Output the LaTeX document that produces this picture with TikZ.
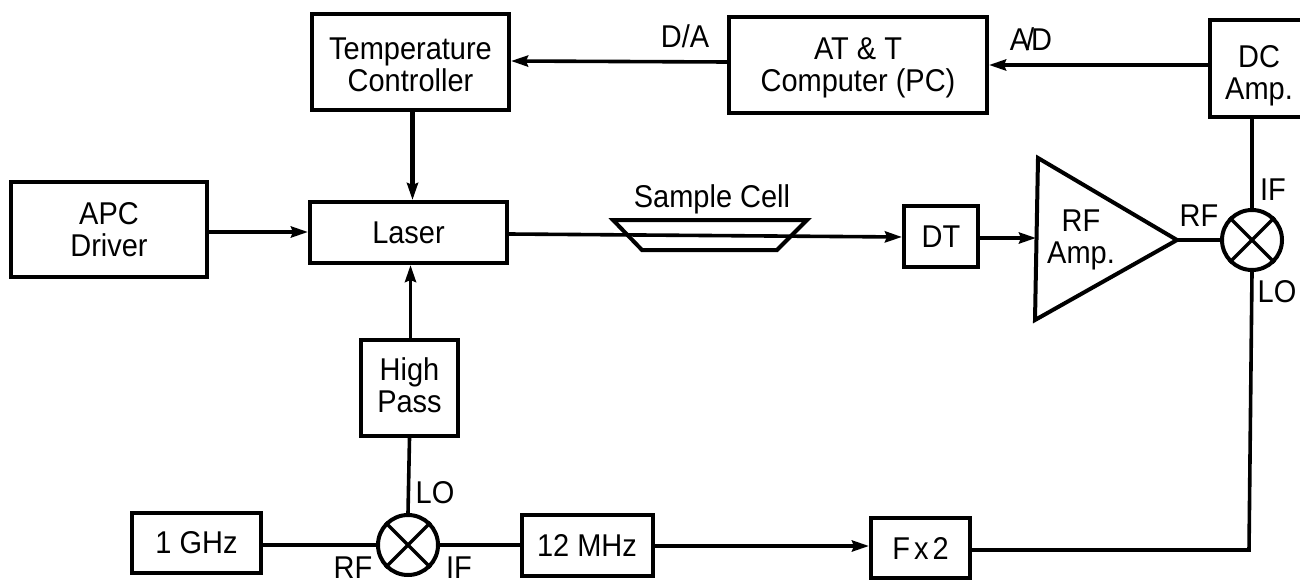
\documentclass[tikz,border=0pt]{standalone}
\usepackage{fontspec}
\setmainfont[FakeStretch=0.92]{Liberation Sans}
\usetikzlibrary{arrows.meta,calc}
\newcommand{\tophgt}[1]{\rule{0pt}{#1}}
\newcommand{\botdep}[1]{\rule[-#1]{0pt}{#1}}
\tikzset{
  blockbox/.style={draw=black,line width=4pt,align=center,inner sep=0pt,font=\fontsize{31.5}{32}\selectfont},
  mixerbox/.style={draw=black,line width=4pt,circle,minimum size=60pt,inner sep=0pt},
  lbl/.style={inner sep=0pt,align=center,font=\fontsize{31.5}{32}\selectfont},
  wire/.style={line width=3.6pt},
  arr/.style={line width=3.6pt,-{Stealth[length=17pt,width=11pt,inset=2pt]}}
}
\begin{document}
\begin{tikzpicture}[x=1pt,y=-1pt]
\useasboundingbox (0,0) rectangle (1300,583);
% boxes
\node[blockbox,minimum width=197pt,minimum height=96pt] (temp) at (410.5,62) {\tophgt{28pt}Temperature\\Controller};
\node[blockbox,minimum width=258pt,minimum height=96pt] (comp) at (858,65) {\tophgt{28.5pt}AT \& T\\Computer (PC)};
\node[blockbox,minimum width=196pt,minimum height=95pt] (apc) at (109,229.5) {\tophgt{23pt}APC\\Driver};
\node[blockbox,minimum width=197pt,minimum height=61pt] (laser) at (408.5,232.5) {Laser};
\node[blockbox,minimum width=74pt,minimum height=61pt] (dt) at (941,236.5) {DT};
\node[blockbox,minimum width=97pt,minimum height=96pt] (high) at (409.5,388) {High\\Pass\botdep{5pt}};
\node[blockbox,minimum width=129pt,minimum height=60pt] (ghz) at (196.5,543) {1 GHz};
\node[blockbox,minimum width=131pt,minimum height=61pt] (mhz) at (587,545.5) {12 MHz};
\node[blockbox,minimum width=99pt,minimum height=60pt] (fx) at (920.5,548) {F{\kern4pt}x{\kern4pt}2};
% DC amplifier, open at the picture edge
\draw[line width=4pt,line join=miter] (1303,20) -- (1210,20) -- (1210,117) -- (1303,117);
\node[lbl] (dclabel) at (1259,75.5) {DC\\Amp.};
\coordinate (dcw) at (1210,65);
\coordinate (dcs) at (1252,117);
% RF amplifier
\coordinate (ampa) at (1038,158);
\coordinate (ampt) at (1177,240);
\coordinate (ampb) at (1035,320);
\draw[line width=4pt,line join=miter] (ampa) -- (ampt) -- (ampb) -- cycle;
\node[lbl] (amplabel) at (1081,239.5) {RF\\Amp.};
% mixers
\node[mixerbox] (mixr) at (1252,240) {};
\node[mixerbox] (mixl) at (408,545) {};
\foreach \m in {mixr,mixl}{
  \draw[line width=3.4pt] (\m.45) -- (\m.225);
  \draw[line width=3.4pt] (\m.135) -- (\m.315);
}
% sample cell
\coordinate (ca) at (613,220);
\coordinate (cb) at (807,220);
\coordinate (cc) at (777,250);
\coordinate (cd) at (642,250);
\draw[line width=4pt,line join=miter] (ca) -- (cb) -- (cc) -- (cd) -- cycle;
\node[lbl] (celllabel) at (712,199) {Sample Cell};
% connectors
\draw[arr] (comp.west |- 0,62) -- (temp.east |- 0,61);
\draw[arr] (dcw) -- (comp.east |- dcw);
\draw[arr,line width=4.2pt] ($(temp.south)+(2,0)$) -- ($(laser.north)+(4,0)$);
\draw[arr] (apc.east |- 0,232) -- (laser.west |- 0,232);
\draw[arr] ($(high.north)+(1,0)$) -- ($(laser.south)+(2,0)$);
\draw[wire] (high.south) -- (mixl.north);
\draw[wire] (ghz.east |- mixl) -- (mixl.west);
\draw[wire] (mixl.east) -- (mhz.west |- mixl);
\draw[arr] (mhz.east |- 0,546) -- (fx.west |- 0,546);
\draw[wire,line join=miter] (fx.east |- 0,550) -- (1249,550) -- (mixr.south);
\draw[arr] (laser.east |- 0,234) -- (dt.west |- 0,237);
\draw[arr] (dt.east |- 0,238) -- (1036,238);
\draw[wire] (ampt) -- (mixr.west);
\draw[wire] (dcs) -- (mixr.north);
% labels
\node[lbl] (lda) at (685,36) {D/A};
\node[lbl] (lad) at (1031,39) {A{\kern-3pt}/{\kern-3pt}D};
\node[lbl] (lrf) at (1199,216) {RF};
\node[lbl] (lif) at (1273,190) {IF};
\node[lbl] (llo) at (1277,292) {LO};
\node[lbl] (llo2) at (435,493) {LO};
\node[lbl] (lrf2) at (353,568) {RF};
\node[lbl] (lif2) at (459,568) {IF};
\end{tikzpicture}
\end{document}
